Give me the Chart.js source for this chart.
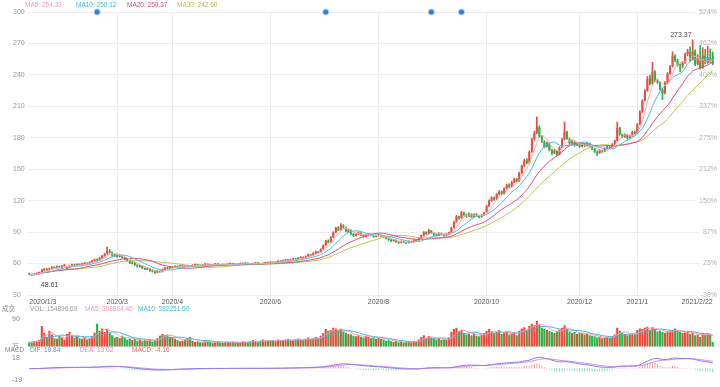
<!DOCTYPE html>
<html lang="zh">
<head>
<meta charset="UTF-8" />
<title>K线图</title>
<script src="https://cdn.jsdelivr.net/npm/chart.js"></script>
<style>
  body { margin: 0; background: #fff; }
  .wrap { position: relative; width: 720px; height: 387px; overflow: hidden;
          font-family: Arial, "Liberation Sans", "Noto Sans CJK SC", sans-serif; }
  canvas { position: absolute; left: 0; }
  .lg { position: absolute; font-size: 6.5px; line-height: 8px; white-space: nowrap; }
</style>
</head>
<body>
<div class="wrap">
  <canvas id="kChart" width="720" height="310" style="top:0"></canvas>
  <canvas id="volChart" width="720" height="42" style="top:312px"></canvas>
  <canvas id="macdChart" width="720" height="37" style="top:350px"></canvas>

  <span class="lg" style="left:25px;top:1px;color:#f29bb0">MA5: 254.33</span>
  <span class="lg" style="left:76px;top:1px;color:#3cb8d8">MA10: 250.12</span>
  <span class="lg" style="left:127px;top:1px;color:#e2467f">MA20: 250.37</span>
  <span class="lg" style="left:177px;top:1px;color:#a9c63c">MA30: 242.60</span>

  <span class="lg" style="left:2px;top:305px;color:#888">成交</span>
  <span class="lg" style="left:30px;top:305px;color:#999">VOL: 154896.69</span>
  <span class="lg" style="left:85px;top:305px;color:#f29bb0">MA5: 368864.46</span>
  <span class="lg" style="left:138px;top:305px;color:#3cb8d8">MA10: 382251.50</span>

  <span class="lg" style="left:5px;top:346px;color:#888">MACD</span>
  <span class="lg" style="left:30px;top:346px;color:#5a8de0">DIF: 10.84</span>
  <span class="lg" style="left:80px;top:346px;color:#e27ad0">DEA: 13.02</span>
  <span class="lg" style="left:132px;top:346px;color:#e06a6a">MACD: -4.16</span>
</div>

<script>
  // 坐标轴
  const tickIdx = [0, 35, 57, 96, 139, 182, 219, 242, 272];
  const tickText = ["2020/1/3", "2020/3", "2020/4", "2020/6", "2020/8", "2020/10", "2020/12", "2021/1", "2021/2/22"];
  const priceTicks = [30, 60, 90, 120, 150, 180, 210, 240, 270, 300];
  const pctNames = ["-38%", "25%", "87%", "150%", "212%", "275%", "337%", "400%", "462%", "524%"];
  const markDays = [27, 118, 160, 172];

  // 日K数据 2020/1/3 - 2021/2/22
  const opens = [
    50.2,49.6,49.3,50.0,50.9,51.8,53.7,54.8,53.9,55.0, 56.6,55.8,57.3,56.4,57.7,55.0,56.0,57.4,59.1,58.2,
    59.3,58.7,59.9,60.5,59.8,61.3,62.6,64.0,63.2,65.5, 67.4,69.2,72.0,70.4,67.2,
    68.5,66.8,67.5,65.6,64.0,62.4,60.2,60.8,58.4,57.0, 57.6,55.2,54.6,55.0,53.0,52.3,51.6,53.0,52.4,54.6, 56.0,55.3,
    56.9,56.3,57.5,57.0,57.9,58.4,57.7,58.2,57.6,58.7, 59.2,58.5,58.0,58.8,59.5,58.9,58.3,59.0,59.7,59.1,
    58.6,59.3,58.8,59.6,60.2,59.5,59.0,59.7,60.3,59.8, 60.5,59.9,59.4,60.1,60.7,60.2,59.7,60.4,61.1,
    60.7,61.3,60.9,61.6,62.4,62.0,62.9,63.5,63.0,63.9, 64.6,64.2,65.3,66.1,65.5,66.9,68.6,68.0,69.9,71.4,
    70.8,73.8,77.5,81.8,80.5,85.2,89.9,94.1,92.4,96.0, 94.2,90.6,91.6,88.0,86.7,88.1,89.2,87.0,86.0,87.1, 88.0,86.8,85.8,
    86.6,87.1,86.0,85.0,83.8,82.5,81.7,82.2,80.6,80.0, 81.1,80.1,79.8,81.2,80.6,82.2,81.7,84.0,86.8,89.9,
    88.4,91.2,89.0,87.3,87.0,88.7,87.4,86.6,87.9,89.8, 94.2,100.0,104.5,103.6,108.2,106.6,105.3,107.1,104.8,106.9, 105.7,104.4,106.3,
    109.5,115.0,120.1,122.9,121.6,126.2,128.6,126.9,131.8,135.1, 133.5,137.9,140.6,138.8,146.6,153.2,158.8,156.5,166.8,179.0,
    185.0,189.8,181.0,176.4,171.8,174.6,168.0,165.5,167.5,164.2, 171.0,178.8,185.5,178.9,174.9,176.0,173.1,
    174.2,171.9,173.5,172.5,174.2,171.6,169.1,166.5,165.6,167.8, 167.2,169.8,171.0,170.7,173.9,177.3,189.0,182.9,181.0,182.6, 180.1,181.9,185.7,
    184.5,193.0,205.0,215.8,225.0,236.6,231.8,242.4,234.3,232.6, 226.0,222.5,232.8,241.4,248.2,258.0,253.8,249.3,249.0,251.8,
    260.1,262.0,255.0,262.8,250.2,255.6,247.0,258.2,251.6,256.3, 258.5
  ];
  const highs = [
    50.9,50.0,50.5,51.2,52.0,54.5,55.3,55.2,55.8,57.1, 57.0,57.8,57.7,58.3,59.2,56.8,58.0,59.5,59.4,59.8,
    59.7,60.3,61.0,60.8,61.7,63.1,64.4,64.5,65.9,67.8, 69.6,75.6,73.4,71.0,69.0,
    69.1,68.7,68.0,66.2,64.6,63.0,62.0,61.2,59.0,58.6, 57.9,56.0,56.1,55.4,53.9,52.8,53.7,53.4,55.0,56.5, 56.4,57.4,
    57.2,57.9,57.8,58.3,58.9,58.6,58.6,58.4,59.0,59.6, 59.4,58.8,59.1,59.9,59.7,59.1,59.3,60.1,59.9,59.3,
    59.6,59.5,59.9,60.6,60.4,59.7,60.0,60.7,60.5,60.9, 60.7,60.1,60.4,61.1,60.9,60.4,60.7,61.5,61.3,
    61.8,61.5,61.9,62.8,62.6,63.2,63.9,63.7,64.2,65.0, 64.9,65.7,66.6,66.3,67.3,69.1,68.9,70.4,71.9,71.8,
    74.2,77.9,82.3,82.6,85.7,90.4,94.6,95.3,98.2,97.1, 94.8,92.7,92.1,88.9,88.6,90.2,89.6,87.5,87.6,88.8, 88.3,87.2,87.1,
    88.0,87.5,86.4,85.5,84.3,83.0,83.1,82.6,81.0,81.8, 81.5,80.6,81.6,81.5,82.8,82.6,84.4,87.2,90.6,90.4,
    92.8,91.8,89.5,87.9,89.6,89.1,87.8,88.3,90.1,94.6, 100.3,105.9,105.4,109.8,109.2,107.3,108.2,107.6,107.5,107.8, 106.3,106.8,109.2,
    115.6,120.9,123.8,123.5,126.8,129.6,129.2,132.4,135.9,136.0, 138.4,141.5,141.2,147.3,153.9,159.6,160.2,167.4,179.6,186.2,
    200.1,191.5,182.3,177.2,176.0,175.3,169.1,168.9,168.2,171.4, 179.5,195.0,186.4,179.8,177.4,176.8,175.6,
    174.8,174.7,174.1,175.3,174.9,172.3,169.8,167.4,168.9,168.4, 170.3,172.0,171.7,174.4,177.8,195.0,190.1,183.6,183.9,183.2, 182.5,186.3,186.4,
    193.6,205.8,216.4,226.0,238.5,240.1,252.0,244.0,236.2,233.4, 227.2,233.6,242.3,249.0,262.0,259.4,255.0,250.5,252.6,260.9,
    264.5,266.8,273.37,264.0,259.3,268.2,266.0,264.5,267.5,264.8, 262.0
  ];
  const lows = [
    49.0,48.61,49.0,49.7,50.5,51.5,53.2,53.4,53.6,54.7, 55.4,55.5,55.9,56.0,57.3,54.2,55.6,57.0,57.6,57.9,
    58.1,58.4,59.4,59.2,59.5,61.0,62.2,62.6,62.9,65.0, 66.9,68.8,69.9,66.8,66.5,
    66.0,66.2,65.3,63.5,62.2,59.8,59.6,58.1,56.5,56.4, 55.0,54.1,54.2,52.6,51.9,50.6,51.2,51.6,52.0,54.2, 54.6,55.0,
    55.8,56.0,56.5,56.7,57.5,57.2,57.3,57.1,57.3,58.3, 58.0,57.5,57.7,58.5,58.4,57.9,58.0,58.7,58.7,58.2,
    58.3,58.4,58.5,59.3,59.1,58.6,58.7,59.4,59.4,59.5, 59.5,59.0,59.1,59.8,59.8,59.3,59.4,60.1,60.2,
    60.4,60.4,60.6,61.3,61.5,61.7,62.5,62.5,62.7,63.6, 63.7,63.9,65.0,65.0,65.2,66.6,67.4,67.7,69.5,70.0,
    70.5,73.4,77.0,79.6,80.1,84.7,89.2,91.2,91.9,93.6, 90.1,89.8,87.6,85.7,86.1,87.6,86.6,85.1,85.5,86.7, 86.4,85.0,85.3,
    86.1,85.6,84.7,83.4,82.1,80.9,81.2,80.2,79.2,79.6, 79.8,78.9,79.4,79.9,80.2,81.0,81.3,83.6,86.3,87.6,
    88.0,88.7,86.8,86.1,86.6,87.0,85.9,86.2,87.5,89.4, 93.8,99.5,102.1,103.1,105.9,104.2,104.8,103.9,104.3,105.2, 103.6,104.0,105.8,
    109.0,114.4,119.3,120.2,121.0,125.4,125.8,126.3,131.0,132.4, 132.9,137.1,137.6,138.2,145.8,152.4,155.0,155.8,166.0,177.8,
    183.9,180.2,175.6,170.3,171.0,167.4,164.0,164.8,163.0,163.6, 170.4,178.0,178.4,173.7,174.2,171.9,172.4,
    170.8,171.3,171.4,171.9,171.1,168.6,166.0,163.0,165.0,166.1, 166.6,169.1,169.6,170.1,173.3,176.8,182.4,179.8,180.3,179.0, 179.5,181.3,183.3,
    183.9,192.4,204.2,215.0,224.2,230.2,231.0,233.5,231.8,225.1, 216.4,221.8,232.0,240.6,247.5,252.6,248.2,243.0,246.8,251.0,
    258.2,252.6,254.2,248.7,249.5,245.3,246.2,250.4,250.9,251.8, 249.6
  ];
  const closes = [
    49.5,49.2,50.1,50.8,51.6,53.9,54.6,53.8,55.2,56.4, 55.9,57.1,56.3,57.8,58.4,56.2,57.5,58.9,58.1,59.2,
    58.6,59.8,60.4,59.7,61.2,62.5,63.8,63.1,65.4,67.2, 68.9,71.8,70.6,67.4,68.2,
    66.5,67.8,65.9,64.2,62.8,60.5,61.3,58.7,57.2,57.9, 55.6,54.8,55.3,53.2,52.6,51.4,53.1,52.2,54.5,55.9, 55.1,56.8,
    56.2,57.4,56.9,57.8,58.3,57.6,58.1,57.5,58.6,59.1, 58.4,57.9,58.7,59.4,58.8,58.2,58.9,59.6,59.0,58.5,
    59.2,58.7,59.5,60.1,59.4,58.9,59.6,60.2,59.7,60.4, 59.8,59.3,60.0,60.6,60.1,59.6,60.3,61.0,60.6,
    61.2,60.8,61.5,62.3,61.9,62.8,63.4,62.9,63.8,64.5, 64.1,65.2,66.0,65.4,66.8,68.5,67.9,69.8,71.2,70.5,
    73.6,77.2,81.5,80.3,84.9,89.6,93.8,92.1,96.2,94.5, 90.8,91.9,88.2,86.5,87.9,89.4,87.2,85.8,86.9,88.1, 87.0,85.6,86.4,
    87.3,86.1,85.2,84.0,82.7,81.5,82.4,80.8,79.9,81.2, 80.3,79.6,81.0,80.4,82.1,81.5,83.8,86.5,89.7,88.2,
    91.5,89.3,87.4,86.8,88.9,87.6,86.4,87.8,89.5,93.8, 99.6,104.8,103.2,108.5,106.9,105.1,107.4,104.6,106.8,105.9, 104.2,106.1,108.4,
    114.5,119.8,122.6,121.3,125.9,128.4,126.7,131.5,134.8,133.2, 137.6,140.3,138.5,146.2,152.8,158.4,156.1,166.3,178.5,184.6,
    190.2,181.4,176.8,171.5,174.9,168.3,165.2,167.8,163.9,170.6, 178.4,185.9,179.2,174.6,176.3,172.8,174.5,
    171.6,173.8,172.2,174.5,171.9,169.4,166.8,165.3,168.1,166.9, 169.5,171.2,170.4,173.6,176.9,189.5,183.2,180.7,182.9,179.8, 181.6,185.4,184.1,
    192.5,204.5,215.3,224.6,236.2,231.4,242.9,234.7,233.0,226.3, 222.1,232.4,241.0,247.8,258.3,254.1,249.6,249.2,251.5,259.7,
    262.4,254.2,262.5,249.8,255.9,246.5,258.6,251.2,256.7,252.8, 250.4
  ];
  // 成交量 (万)
  const volumes = [
    15,14,18,20,22,68,45,33,52,40, 28,26,36,30,24,42,48,38,30,35, 28,26,30,24,28,34,46,75,52,60, 48,58,44,38,30,
    32,28,36,30,24,27,22,26,20,24, 18,22,19,25,17,21,28,36,42,38, 40,33,
    30,26,22,18,20,24,28,32,20,16, 18,15,14,17,19,16,13,15,18,14, 12,16,15,13,17,14,12,15,18,16, 14,19,22,17,15,20,24,18,21,
    20,22,18,24,21,19,23,26,22,20, 24,27,23,21,26,30,25,28,32,27, 36,45,58,52,55,62,60,54,58,50, 46,42,40,36,34,38,33,30,35,32, 28,31,26,
    30,26,24,20,22,18,16,19,15,17, 14,16,18,15,20,17,24,32,38,28, 35,30,26,24,28,23,25,22,30,48, 58,62,50,55,45,40,42,38,44,36, 34,40,45,
    52,58,50,44,48,55,42,46,50,40, 44,48,38,52,60,64,55,68,75,70, 85,72,62,58,55,52,48,45,50,56, 62,70,58,50,45,48,42,
    46,44,40,42,38,36,34,30,32,28, 30,33,29,35,40,62,52,45,42,38, 40,44,41,
    55,60,58,62,65,56,64,58,50,52, 48,46,50,52,55,60,52,48,45,47, 50,42,45,38,40,32,46,40,44,39.4, 15.49
  ];

  const upColor = "#ef4b3c";
  const downColor = "#2cb34a";
  Chart.defaults.font.family = 'Arial, "Liberation Sans", "Noto Sans CJK SC", sans-serif';
  Chart.defaults.animation = false;

  const days = closes.map((c, i) => i);
  const candleColors = closes.map((c, i) => (c >= opens[i] ? upColor : downColor));

  function movingAvg(arr, n) {
    return arr.map((v, i) => {
      const part = arr.slice(Math.max(0, i - n + 1), i + 1);
      return part.reduce((a, b) => a + b, 0) / part.length;
    });
  }
  function ema(arr, n) {
    const k = 2 / (n + 1);
    let prev = arr[0];
    return arr.map((v, i) => {
      if (i > 0) prev = prev + k * (v - prev);
      return prev;
    });
  }
  const ema12 = ema(closes, 12);
  const ema26 = ema(closes, 26);
  const dif = ema12.map((v, i) => v - ema26[i]);
  const dea = ema(dif, 9);
  const macd = dif.map((v, i) => 2 * (v - dea[i]));

  // 右侧百分比刻度
  const pctLabels = {
    id: "pctLabels",
    beforeDatasetsDraw(chart) {
      const { ctx, scales: { y } } = chart;
      ctx.save();
      ctx.font = '7px Arial, "Liberation Sans", sans-serif';
      ctx.textAlign = "right";
      ctx.textBaseline = "middle";
      priceTicks.forEach((v, i) => {
        const py = y.getPixelForValue(v);
        const w = ctx.measureText(pctNames[i]).width;
        ctx.fillStyle = "#fff";
        ctx.fillRect(717 - w - 4, py - 1, w + 4, 2);
        ctx.fillStyle = "#b0b0b0";
        ctx.fillText(pctNames[i], 717, py);
      });
      ctx.restore();
    }
  };

  // 最高价 / 最低价 标注
  const extremeLabels = {
    id: "extremeLabels",
    afterDatasetsDraw(chart) {
      const { ctx, scales: { x, y } } = chart;
      const hi = highs.indexOf(Math.max(...highs));
      const lo = lows.indexOf(Math.min(...lows));
      ctx.save();
      ctx.font = '7px Arial, "Liberation Sans", sans-serif';
      ctx.fillStyle = "#444";
      ctx.textAlign = "right";
      ctx.textBaseline = "bottom";
      ctx.fillText(highs[hi].toFixed(2), x.getPixelForValue(hi) - 1, y.getPixelForValue(highs[hi]) - 1);
      ctx.textAlign = "left";
      ctx.textBaseline = "top";
      ctx.fillText(lows[lo].toFixed(2), x.getPixelForValue(lo) + 9, y.getPixelForValue(lows[lo]) + 6);
      ctx.restore();
    }
  };

  // 主图: K线 + 均线
  new Chart(document.getElementById("kChart"), {
    type: "bar",
    data: {
      labels: days,
      datasets: [
        { type: "line", label: "MA5", data: movingAvg(closes, 5), borderColor: "#f5a9bb", borderWidth: 1, pointRadius: 0, order: 0 },
        { type: "line", label: "MA10", data: movingAvg(closes, 10), borderColor: "#3fc0dd", borderWidth: 1, pointRadius: 0, order: 0 },
        { type: "line", label: "MA20", data: movingAvg(closes, 20), borderColor: "#e2467f", borderWidth: 1, pointRadius: 0, order: 0 },
        { type: "line", label: "MA30", data: movingAvg(closes, 30), borderColor: "#b3c84c", borderWidth: 1, pointRadius: 0, order: 0 },
        {
          type: "line", label: "事件",
          data: days.map((d) => (markDays.includes(d) ? priceTicks[priceTicks.length - 1] : null)),
          showLine: false, pointRadius: 2.5, pointBorderWidth: 2,
          pointBackgroundColor: "#2f7ed8", pointBorderColor: "rgba(47,126,216,0.3)",
          clip: false, order: 0
        },
        {
          label: "body", data: opens.map((o, i) => [o, closes[i]]),
          backgroundColor: candleColors, grouped: false,
          barPercentage: 0.8, categoryPercentage: 1, minBarLength: 1, order: 1
        },
        {
          label: "wick", data: lows.map((l, i) => [l, highs[i]]),
          backgroundColor: candleColors, grouped: false,
          barThickness: 1, order: 2
        }
      ]
    },
    options: {
      responsive: false,
      layout: { padding: { left: 13, right: 6, top: 12, bottom: 0 } },
      plugins: { legend: { display: false }, tooltip: { enabled: false } },
      scales: {
        x: {
          offset: true,
          grid: {
            offset: false, drawTicks: false,
            color: (c) => (tickIdx.includes(c.index) && c.index !== 0 && c.index !== 272 ? "#ececec" : "rgba(0,0,0,0)")
          },
          border: { display: false },
          ticks: {
            autoSkip: false, maxRotation: 0, align: "inner", padding: 3,
            color: "#555", font: { size: 7 },
            callback: (v, i) => (tickIdx.includes(i) ? tickText[tickIdx.indexOf(i)] : "")
          },
          afterFit: (s) => { s.height = 15; }
        },
        y: {
          min: 30, max: 300,
          grid: { color: "#ececec", drawTicks: false },
          border: { display: false },
          ticks: { stepSize: 30, crossAlign: "far", color: "#999", font: { size: 7 } },
          afterFit: (s) => { s.width = 15; }
        }
      }
    },
    plugins: [pctLabels, extremeLabels]
  });

  // 成交量
  new Chart(document.getElementById("volChart"), {
    type: "bar",
    data: {
      labels: days,
      datasets: [
        { type: "line", label: "MA5", data: movingAvg(volumes, 5), borderColor: "#f29bb0", borderWidth: 1, pointRadius: 0, order: 0 },
        { type: "line", label: "MA10", data: movingAvg(volumes, 10), borderColor: "#3cb8d8", borderWidth: 1, pointRadius: 0, order: 0 },
        {
          label: "VOL", data: volumes, backgroundColor: candleColors,
          barPercentage: 0.85, categoryPercentage: 1, order: 1
        }
      ]
    },
    options: {
      responsive: false,
      layout: { padding: { left: 12, right: 6, top: 5, bottom: 6 } },
      plugins: { legend: { display: false }, tooltip: { enabled: false } },
      scales: {
        x: { display: false, offset: true },
        y: {
          min: 0, max: 90,
          grid: { display: false },
          border: { display: false },
          afterBuildTicks: (s) => { s.ticks = [{ value: 0 }, { value: 90 }]; },
          ticks: { crossAlign: "far", color: "#888", font: { size: 7 }, callback: (v) => (v === 0 ? "万" : v) },
          afterFit: (s) => { s.width = 16; }
        }
      }
    }
  });

  // MACD
  new Chart(document.getElementById("macdChart"), {
    type: "bar",
    data: {
      labels: days,
      datasets: [
        { type: "line", label: "DIF", data: dif, borderColor: "#8a7be6", borderWidth: 1, pointRadius: 0, clip: 8, order: 0 },
        { type: "line", label: "DEA", data: dea, borderColor: "#d58ee0", borderWidth: 1, pointRadius: 0, clip: 8, order: 0 },
        {
          label: "MACD", data: macd,
          backgroundColor: macd.map((v) => (v >= 0 ? "rgba(239,75,60,0.55)" : "rgba(40,180,150,0.55)")),
          barPercentage: 0.4, categoryPercentage: 1, order: 1
        }
      ]
    },
    options: {
      responsive: false,
      layout: { padding: { left: 12, right: 6, top: 8, bottom: 4 } },
      plugins: { legend: { display: false }, tooltip: { enabled: false } },
      scales: {
        x: { display: false, offset: true },
        y: {
          min: -19, max: 18,
          grid: { display: false },
          border: { display: false },
          afterBuildTicks: (s) => { s.ticks = [{ value: -19 }, { value: 18 }]; },
          ticks: { crossAlign: "far", color: "#888", font: { size: 7 } },
          afterFit: (s) => { s.width = 16; }
        }
      }
    }
  });
</script>
</body>
</html>
